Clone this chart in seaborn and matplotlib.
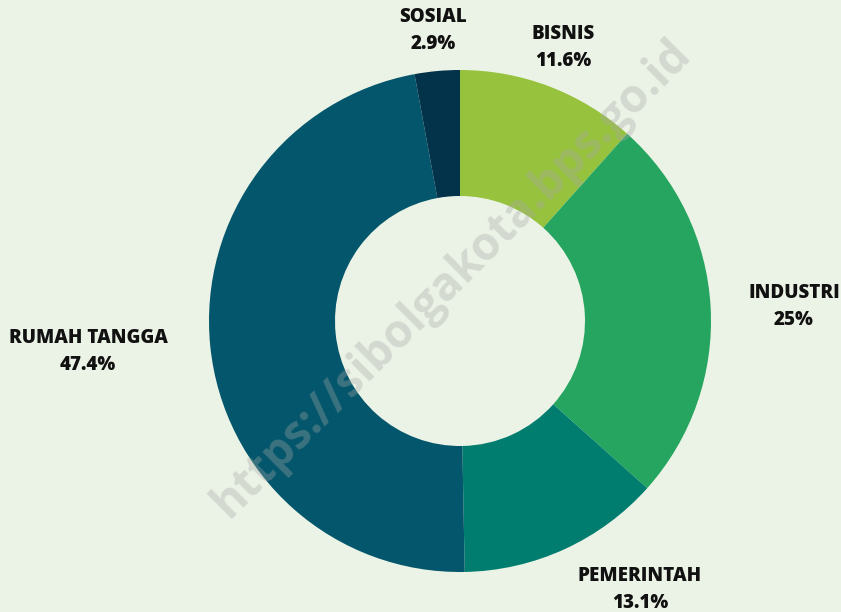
import matplotlib
matplotlib.use("Agg")
import matplotlib.pyplot as plt
import seaborn as sns

# Kategori pelanggan dan persentase
categories = ["BISNIS", "INDUSTRI", "PEMERINTAH", "RUMAH TANGGA", "SOSIAL"]
shares = [11.6, 25.0, 13.1, 47.4, 2.9]
share_labels = ["11.6%", "25%", "13.1%", "47.4%", "2.9%"]
colors = ["#96C23E", "#25A55F", "#017D6F", "#03566B", "#03324B"]

bg = "#EBF3E6"

sns.set_style("white")
plt.rcParams["font.family"] = ["Open Sans", "DejaVu Sans"]

fig = plt.figure(figsize=(8.41, 6.12), dpi=100)
fig.patch.set_facecolor(bg)
ax = fig.add_axes([0, 0, 1, 1])
ax.set_facecolor(bg)

ax.pie(shares, colors=colors, startangle=90, counterclock=False,
       center=(460, 291), radius=251,
       wedgeprops=dict(width=126, linewidth=0))

# label positions (pixel layout, y from top)
label_pos = {
    "BISNIS": (563, 34),
    "INDUSTRI": (794, 293),
    "PEMERINTAH": (640, 576),
    "RUMAH TANGGA": (88, 338),
    "SOSIAL": (433, 17),
}
for cat, lab in zip(categories, share_labels):
    x, y = label_pos[cat]
    ax.text(x, 612 - y, cat, ha="center", va="center", fontsize=13.5,
            fontweight="heavy", color="#111111")
    ax.text(x, 612 - y - 27, lab, ha="center", va="center", fontsize=13.5,
            fontweight="heavy", color="#111111")

# watermark
ax.text(452, 612 - 278, "https://sibolgakota.bps.go.id", ha="center", va="center",
        rotation=45, fontsize=33, fontweight="bold", color="#a8a8a8", alpha=0.35,
        rotation_mode="anchor")

ax.set_xlim(0, 841)
ax.set_ylim(0, 612)
ax.set_aspect("equal")
ax.axis("off")

fig.savefig("out.png", dpi=100, facecolor=bg)
